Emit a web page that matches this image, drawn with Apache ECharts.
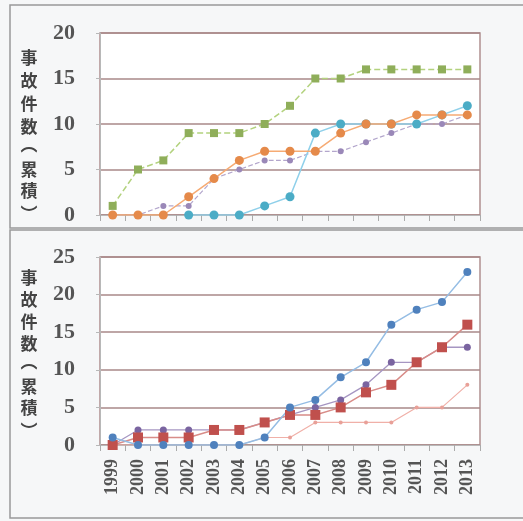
<!DOCTYPE html>
<html><head><meta charset="utf-8">
<script src="https://cdn.jsdelivr.net/npm/echarts@6/dist/echarts.min.js"></script>
<style>html,body{margin:0;padding:0;background:#fff}#c{width:523px;height:521px}</style>
</head><body><div id="c"></div>
<script>
const years = ['1999','2000','2001','2002','2003','2004','2005','2006','2007','2008','2009','2010','2011','2012','2013'];
// top panel
const topGreen  = [1,5,6,9,9,9,10,12,15,15,16,16,16,16,16];
const topOrange = [0,0,0,2,4,6,7,7,7,9,10,10,11,11,11];
const topBlue   = [null,null,null,0,0,0,1,2,9,10,10,10,10,11,12];
const topPurple = [0,0,1,1,4,5,6,6,7,7,8,9,10,10,11];
const topTicks = [0,5,10,15,20];
// bottom panel
const botBlue   = [1,0,0,0,0,0,1,5,6,9,11,16,18,19,23];
const botRed    = [0,1,1,1,2,2,3,4,4,5,7,8,11,13,16];
const botPurple = [0,2,2,2,2,2,3,4,5,6,8,11,11,13,13];
const botPink   = [0,0,0,0,0,0,1,1,3,3,3,3,5,5,8];
const botTicks = [0,5,10,15,20,25];
const yTitleChars = ['事','故','件','数','︵','累','積','︶'];

const chart = echarts.init(document.getElementById('c'));
const gridCol = '#a88888';
const labelStyle = {color:'#555', fontFamily:'Liberation Serif', fontWeight:'bold', fontSize:22, margin:25};
function yAx(idx, max){
  return {gridIndex:idx, type:'value', min:0, max:max, interval:5,
    axisLine:{show:true, lineStyle:{color:'#b8b8b8'}}, axisTick:{show:true, length:4, lineStyle:{color:'#b8b8b8'}},
    axisLabel:labelStyle,
    splitLine:{lineStyle:{color:gridCol, width:1.5}}};
}
function xAx(idx, showLabel){
  return {gridIndex:idx, type:'category', data:years, boundaryGap:true,
    axisLine:{lineStyle:{color:'#b8b8b8'}},
    axisTick:{show:true, length:6, lineStyle:{color:'#aaa'}},
    axisLabel:{show:showLabel, rotate:90, color:'#555', fontFamily:'Liberation Serif', fontWeight:'bold', fontSize:18, margin:14}};
}
function ser(idx, data, lineCol, markCol, symbol, size, dashed, w){
  return {type:'line', xAxisIndex:idx, yAxisIndex:idx, data:data, symbol:symbol, symbolSize:size,
    lineStyle:{color:lineCol, width:w||1.5, type:dashed?'dashed':'solid'},
    itemStyle:{color:markCol}, connectNulls:false, animation:false};
}
function titleGraphics(ys){
  return yTitleChars.map((ch,i)=>({type:'text', x:29, y:ys[i],
      style:{text:ch, fill:'#444', font:'bold 17px "Noto Sans CJK JP"', textAlign:'center', textVerticalAlign:'middle'}}));
}
chart.setOption({
  backgroundColor:'#f6f7f8',
  grid:[
    {left:100, right:43, top:33, height:182, show:true, backgroundColor:'#fff', borderColor:'#b09090', borderWidth:1.5},
    {left:100, right:43, top:257, height:188, show:true, backgroundColor:'#fff', borderColor:'#b09090', borderWidth:1.5}
  ],
  xAxis:[xAx(0,false), xAx(1,true)],
  yAxis:[yAx(0,20), yAx(1,25)],
  series:[
    ser(0, topPurple, '#b3a6cc', '#9a88b8', 'circle', 6, true, 1.2),
    ser(0, topBlue, '#8fd0ea', '#4bacc6', 'circle', 9, false, 1.5),
    ser(0, topOrange, '#f6ab74', '#e58a4a', 'circle', 9, false, 1.5),
    ser(0, topGreen, '#b3d27e', '#8fae5a', 'rect', 8, true, 1.5),
    ser(1, botPink, '#f0b0a8', '#e8a098', 'circle', 4, false, 1.2),
    ser(1, botPurple, '#a696c2', '#7a64a0', 'circle', 7, false, 1.3),
    ser(1, botRed, '#d88c88', '#c0504d', 'rect', 10, false, 1.5),
    ser(1, botBlue, '#95bde4', '#4f81bd', 'circle', 8, false, 1.5)
  ],
  graphic:[
    {type:'rect', shape:{x:10, y:5, width:520, height:223}, style:{fill:'none', stroke:'#999', lineWidth:1.5}, silent:true},
    {type:'rect', shape:{x:10, y:230, width:520, height:288}, style:{fill:'none', stroke:'#999', lineWidth:1.5}, silent:true}
  ].concat(titleGraphics([58,81,104,127,145,170,191,214]))
   .concat(titleGraphics([278,300,322,344,362,387,408,431]))
});
</script></body></html>
